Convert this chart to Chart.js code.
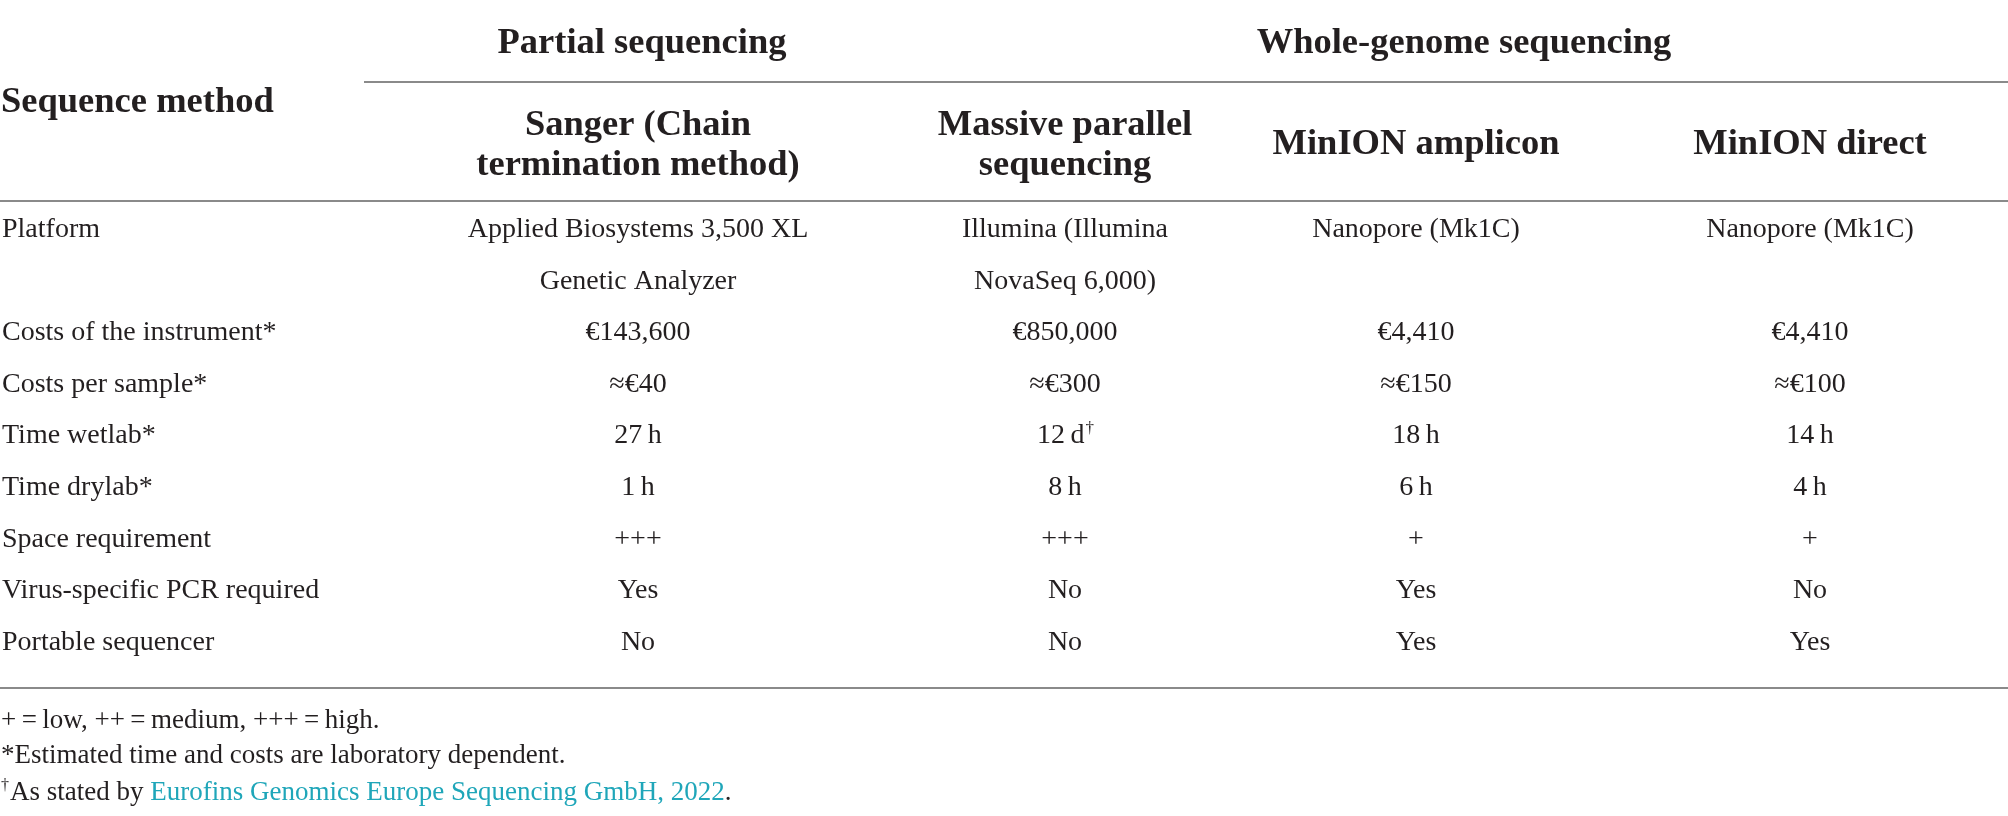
<!DOCTYPE html>
<html>
<head>
<meta charset="utf-8">
<title>Sequencing methods comparison</title>
<script src="https://cdn.jsdelivr.net/npm/chart.js@4.4.1/dist/chart.umd.min.js"></script>
<style>
    html, body { margin: 0; padding: 0; background: #ffffff; }
    #wrap { width: 2008px; height: 816px; position: relative; }
</style>
</head>
<body>
<div id="wrap"><canvas id="tableChart"></canvas></div>
<script>
// table content
const stubHeader = 'Sequence method';
const groupHeaders = ['Partial sequencing', 'Whole-genome sequencing'];
const methods = [
    ['Sanger (Chain', 'termination method)'],
    ['Massive parallel', 'sequencing'],
    ['MinION amplicon'],
    ['MinION direct']
];
const rowLabels = ['Platform', 'Costs of the instrument*', 'Costs per sample*', 'Time wetlab*',
    'Time drylab*', 'Space requirement', 'Virus-specific PCR required', 'Portable sequencer'];
const platform = [
    ['Applied Biosystems 3,500 XL', 'Genetic Analyzer'],
    ['Illumina (Illumina', 'NovaSeq 6,000)'],
    ['Nanopore (Mk1C)'],
    ['Nanopore (Mk1C)']
];
const instrumentCost = ['€143,600', '€850,000', '€4,410', '€4,410'];
const sampleCost = ['≈€40', '≈€300', '≈€150', '≈€100'];
const timeWetlab = ['27\u2009h', '12\u2009d†', '18\u2009h', '14\u2009h'];
const timeDrylab = ['1\u2009h', '8\u2009h', '6\u2009h', '4\u2009h'];
const spaceRequirement = ['+++', '+++', '+', '+'];
const pcrRequired = ['Yes', 'No', 'Yes', 'No'];
const portableSequencer = ['No', 'No', 'Yes', 'Yes'];
const footnotes = [
    '+\u2009=\u2009low, ++\u2009=\u2009medium, +++\u2009=\u2009high.',
    '*Estimated time and costs are laboratory dependent.'
];
const sourceNote = ['†', 'As stated by ', 'Eurofins Genomics Europe Sequencing GmbH, 2022', '.'];

// layout (pixels)
const colCenters = [638, 1065, 1416, 1810];
const groupSpans = [[364, 920], [920, 2008]];
const headerY = { group: 53, rule1: 82, stub: 112, twoLine: [135, 175], oneLine: 154, rule2: 201 };
const footY = [728, 763, 800];
const lineStep = 51.6;

const textColor = '#231f20';
const ruleColor = '#8a8a8a';
const linkColor = '#1fa6b9';
const serif = '"Liberation Serif", "Times New Roman", serif';
const headFont = 'bold 36.5px ' + serif;
const bodyFont = '28px ' + serif;
const footFont = '27px ' + serif;

// each row gets one or more line slots on the y scale
const bodyRows = [platform, instrumentCost, sampleCost, timeWetlab, timeDrylab,
    spaceRequirement, pcrRequired, portableSequencer];

function drawCell(ctx, text, x, y, align) {
    // trailing dagger is set as a small superscript
    let main = text, sup = '';
    if (text.endsWith('†')) { main = text.slice(0, -1); sup = '†'; }
    ctx.font = bodyFont;
    const w = ctx.measureText(main).width;
    ctx.font = '17px ' + serif;
    const sw = sup ? ctx.measureText(sup).width : 0;
    let left = align === 'center' ? x - (w + sw) / 2 : x;
    ctx.textAlign = 'left';
    ctx.font = bodyFont;
    ctx.fillText(main, left, y);
    if (sup) {
        ctx.font = '17px ' + serif;
        ctx.fillText(sup, left + w + 1, y - 10);
    }
}

function rule(ctx, x1, x2, y) {
    ctx.beginPath();
    ctx.moveTo(x1, y);
    ctx.lineTo(x2, y);
    ctx.stroke();
}

const tablePlugin = {
    id: 'tablePlugin',
    afterDraw(chart) {
        const ctx = chart.ctx;
        const xs = chart.scales.x;
        const ys = chart.scales.y;
        const W = chart.width;
        ctx.save();
        ctx.fillStyle = textColor;
        ctx.textBaseline = 'alphabetic';
        ctx.strokeStyle = ruleColor;
        ctx.lineWidth = 2;

        // header
        ctx.font = headFont;
        ctx.textAlign = 'center';
        groupHeaders.forEach((g, i) => {
            const mid = (xs.getPixelForValue(groupSpans[i][0]) + xs.getPixelForValue(groupSpans[i][1])) / 2;
            ctx.fillText(g, mid, headerY.group);
        });
        rule(ctx, xs.getPixelForValue(groupSpans[0][0]), W, headerY.rule1);
        ctx.textAlign = 'left';
        ctx.fillText(stubHeader, 1, headerY.stub);
        ctx.textAlign = 'center';
        methods.forEach((m, i) => {
            const x = xs.getPixelForValue(colCenters[i]);
            if (m.length === 1) {
                ctx.fillText(m[0], x, headerY.oneLine);
            } else {
                m.forEach((line, j) => ctx.fillText(line, x, headerY.twoLine[j]));
            }
        });
        rule(ctx, 0, W, headerY.rule2);

        // body
        let slot = 0;
        bodyRows.forEach((row, r) => {
            const y = ys.getPixelForValue(slot);
            drawCell(ctx, rowLabels[r], 2, y, 'left');
            let lines = 1;
            row.forEach((cell, c) => {
                const x = xs.getPixelForValue(colCenters[c]);
                const parts = Array.isArray(cell) ? cell : [cell];
                parts.forEach((p, k) => drawCell(ctx, p, x, ys.getPixelForValue(slot + k), 'center'));
                lines = Math.max(lines, parts.length);
            });
            slot += lines;
        });
        rule(ctx, 0, W, chart.chartArea.bottom);

        // footnotes
        ctx.textAlign = 'left';
        ctx.font = footFont;
        footnotes.forEach((f, i) => ctx.fillText(f, 1, footY[i]));
        let x = 1;
        ctx.font = '16px ' + serif;
        ctx.fillText(sourceNote[0], x, footY[2] - 10);
        x += ctx.measureText(sourceNote[0]).width + 1;
        ctx.font = footFont;
        ctx.fillText(sourceNote[1], x, footY[2]);
        x += ctx.measureText(sourceNote[1]).width;
        ctx.fillStyle = linkColor;
        ctx.fillText(sourceNote[2], x, footY[2]);
        x += ctx.measureText(sourceNote[2]).width;
        ctx.fillStyle = textColor;
        ctx.fillText(sourceNote[3], x, footY[2]);
        ctx.restore();
    }
};

new Chart(document.getElementById('tableChart'), {
    type: 'scatter',
    data: { datasets: [] },
    options: {
        responsive: true,
        maintainAspectRatio: false,
        animation: false,
        devicePixelRatio: 1,
        layout: { padding: { top: 201, bottom: 128, left: 0, right: 0 } },
        plugins: { legend: { display: false }, tooltip: { enabled: false } },
        scales: {
            x: { type: 'linear', min: 0, max: 2008, display: false },
            y: { type: 'linear', min: -36 / lineStep, max: (487 - 36) / lineStep, reverse: true, display: false }
        }
    },
    plugins: [tablePlugin]
});
</script>
</body>
</html>
